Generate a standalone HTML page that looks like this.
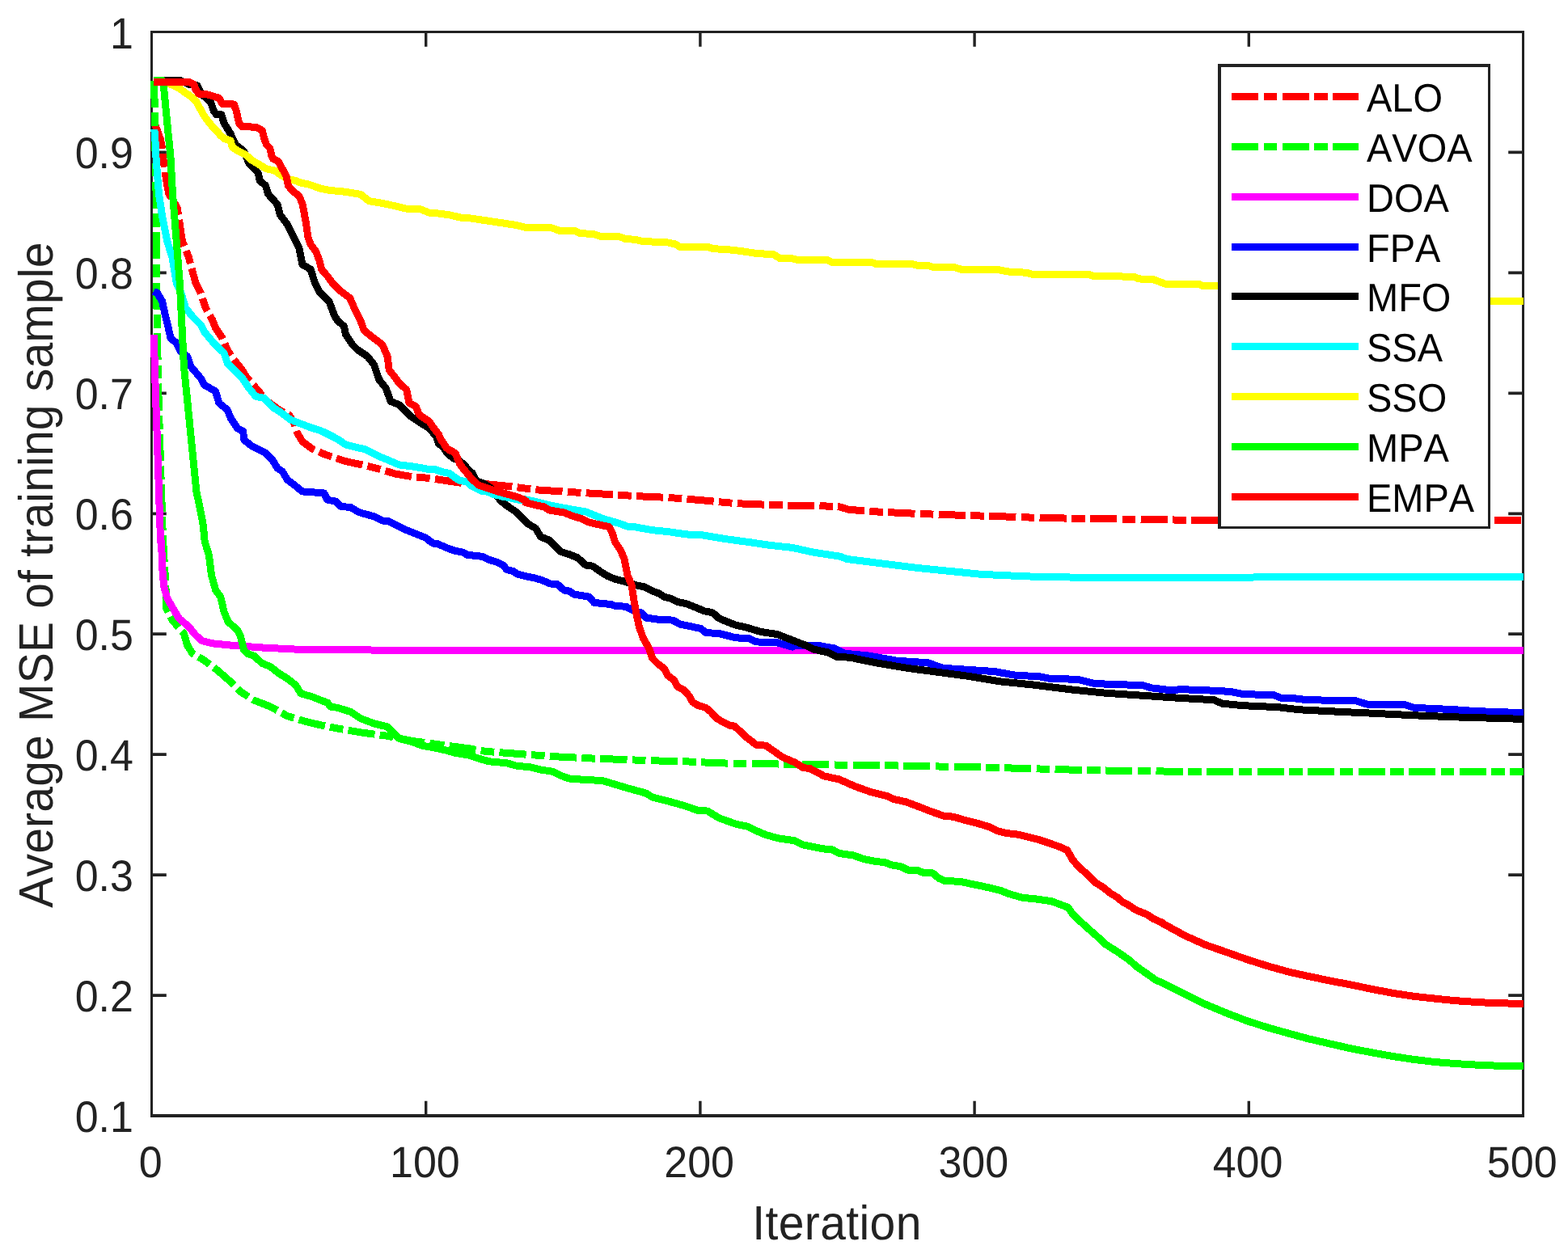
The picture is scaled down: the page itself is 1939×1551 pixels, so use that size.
<!DOCTYPE html>
<html lang="en">
<head>
<meta charset="utf-8">
<title>Average MSE of training sample</title>
<style>
html,body{margin:0;padding:0;background:#fff;}
body{width:1939px;height:1551px;overflow:hidden;}
svg{display:block;}
text{font-family:"Liberation Sans",sans-serif;fill:#222222;font-kerning:none;text-rendering:geometricPrecision;}
.tk{font-size:52px;}
.lb{font-size:57px;}
.lg{font-size:47px;fill:#000;}
.c{fill:none;stroke-width:9.0;stroke-linejoin:round;stroke-linecap:butt;shape-rendering:crispEdges;}
.ax{stroke:#222222;fill:none;}
</style>
</head>
<body>
<svg width="1939" height="1551" viewBox="0 0 1939 1551">
<rect x="0" y="0" width="1939" height="1551" fill="#ffffff"/>
<defs><clipPath id="plot"><rect x="186.0" y="39.5" width="1698.0" height="1340.5"/></clipPath></defs>
<rect class="ax" stroke-width="3.0" x="187.5" y="39.5" width="1696.0" height="1340.5"/>
<path class="ax" stroke-width="4" d="M186.0 1380.0H1885.0"/>
<path class="ax" stroke-width="3.4" d="M526.7 1380.0v-18.3M526.7 39.5v18.3M865.9 1380.0v-18.3M865.9 39.5v18.3M1205.1 1380.0v-18.3M1205.1 39.5v18.3M1544.3 1380.0v-18.3M1544.3 39.5v18.3"/>
<path class="ax" stroke-width="3.8" d="M187.5 1231.1h18.3M1883.5 1231.1h-18.3M187.5 1082.1h18.3M1883.5 1082.1h-18.3M187.5 933.2h18.3M1883.5 933.2h-18.3M187.5 784.2h18.3M1883.5 784.2h-18.3M187.5 635.3h18.3M1883.5 635.3h-18.3M187.5 486.3h18.3M1883.5 486.3h-18.3M187.5 337.4h18.3M1883.5 337.4h-18.3M187.5 188.4h18.3M1883.5 188.4h-18.3"/>
<g clip-path="url(#plot)">
<path class="c" stroke="#ff0000" stroke-dasharray="33.3 6.25 16.7 6.25" d="M190.8 152.2 L193.4 158.4 L198.6 172.8 L200.6 183.1 L202.2 198.6 L204.2 214.1 L206.8 229.6 L208.9 240 L219.2 256.9 L225.4 298.2 L233.6 318.8 L241.9 350 L248.1 362.4 L254.3 380.9 L262.5 395.4 L266.6 405.7 L274.9 418.1 L281.1 432.5 L289.3 444.9 L297.6 455.2 L305.8 467.6 L318.2 482 L330 495.8"/>
<path class="c" stroke="#ff0000" stroke-dasharray="33.3 6.25 16.7 6.25" stroke-dashoffset="8.0" d="M330 495.8 L330.6 496.5 L345 506.8 L357.4 513 L363.6 523.3 L367.7 535.7 L373.9 546 L386.3 555.3 L402.8 562.5 L427.6 570.7 L448.2 574.9 L468.8 580 L489.4 586.2 L510.1 589.7 L530.7 591.4 L551.3 594.5 L572 597.6 L598.8 598.5"/>
<path class="c" stroke="#ff0000" stroke-dasharray="33.3 6.25 16.7 6.25" stroke-dashoffset="61.1" d="M598.8 598.5 L600.6 598.6 L631.6 601.7 L662.5 605.8 L703.8 608.5 L745 611 L786.3 613.6 L827.6 615.5 L868.8 618.8 L910.1 622.7 L951.3 624.4 L980 625.4 L980 625.6 L1005.8 625.6 L1036.7 626.4 L1049.6 630.3 L1083.1 632.9 L1134.7 635.4 L1186.3 637.2 L1237.9 638.8 L1289.4 640.6 L1341 641.4 L1392.6 642.1 L1444.2 642.9 L1480 643.4 L1600 643.4 L1885 643.6"/>
<path class="c" stroke="#00ff00" stroke-dasharray="33.3 6.25 16.7 6.25" d="M190.8 99.6 L191.3 152.2 L193.1 240 L193.6 350 L194.4 411.9 L196.1 494.4 L198.6 576.9 L200.6 638.8 L201.2 659.4 L201.7 670 L204.8 721.6 L205.8 752.5 L213 767 L227.4 783.5 L231.6 797.9 L237.8 808.2 L252.2 816.5 L268.7 828.8 L285.2 843.3 L297.6 855.7 L314.1 866 L334.7 874.2 L355.3 885.6 L376 891.8 L396.6 896.9 L417.2 901 L448.2 906.2 L479.1 910.3 L510.1 916.5 L540 920.5"/>
<path class="c" stroke="#00ff00" stroke-dasharray="33.3 6.25 16.7 6.25" stroke-dashoffset="46.8" d="M540 920.5 L541 920.6 L580 925.8 L600.6 929.4 L641.9 932.5 L683.1 935.6 L724.4 937.7 L765.7 939.3 L806.9 940.8 L848.2 941.8 L889.4 943.9 L930.7 944.5 L980 945.3 L985.8 945.5 L1088.9 946.6 L1217.9 949.1 L1346.8 952.7 L1460 954.3 L1600 954 L1885 954.2"/>
<path class="c" stroke="#ff00ff" d="M190.3 414 L191.3 453.1 L193.4 515 L195.5 576.9 L197.5 638.8 L198.6 670 L199.6 670 L200.6 700.9 L202.7 725.7 L206.8 740.1 L214 752.5 L221.3 764.9 L233.6 775.2 L241.9 785.5 L250.1 792.7 L262.5 795.8 L283.1 797.9 L324.4 801 L365.7 803.1 L468.8 804.1 L580 804.1 L700 804.3 L1885 804.5"/>
<path class="c" stroke="#0000ff" d="M189.9 360.3 L194.4 362.4 L200.6 372.7 L203.7 387.1 L207.8 403.6 L210.9 418.1 L218.2 424.3 L223.3 434.6 L231.6 440.8 L235.7 453.1 L248.1 467.6 L252.2 475.8 L266.6 484.1 L270.8 498.5 L281.1 506.8 L285.2 517.1 L293.5 529.5 L300.7 533.6 L301.7 543.9 L312 552.2 L328.5 560.4 L336.8 568.7 L343 579 L349.2 583.1 L355.3 593.4 L363.6 599.6 L373.9 607.9 L400.7 609.9 L404.9 618.2 L415.2 620.2 L421.4 626.4 L433.7 627.5 L444.1 633.7 L462.6 638.8 L472.9 644 L480 644.6 L490.3 649.7 L500.6 654.9 L510.9 659 L521.3 663.1 L526.4 665.2 L531.6 669.3 L536.7 672.4 L541.9 672.9 L552.2 677.6 L562.5 681.2 L572.8 683.3 L578 686.4 L588.3 687.4 L596.6 688.4 L603.8 692 L614.1 695.1 L622.3 699.2 L626.5 704.4 L634.7 706.5 L639.9 710.1 L650.2 712.7 L660.5 714.7 L670.8 717.8 L680 721.9 L689.3 722.7 L697.6 730 L703.8 731 L710 735.1 L728.5 738.2 L734.7 745.4 L755.3 747.5 L761.5 749.6 L773.9 750.2 L786.3 756.8 L792.5 757.8 L798.7 764 L813.1 766.1 L831.7 767.1 L842 772.3 L866.7 777.4 L872.9 782.6 L889.4 783.6 L910.1 788.8 L926.6 789.8 L934.8 793.9 L961.6 794.9 L980 800.1 L980 797.9 L1013.5 798.7 L1031.6 801.8 L1044.5 808.2 L1072.8 810.8 L1108.9 817.2 L1147.6 819.8 L1165.7 826.3 L1186.3 827.6 L1230.1 830.6 L1255.9 835.3 L1284.3 836.6 L1297.2 839.2 L1333.3 840.4 L1353.9 845.6 L1413.2 847.7 L1423.5 850.8 L1444.2 853.3 L1464.8 852.8 L1498.3 854.1 L1521.5 855.4 L1537 858.5 L1575.7 859.8 L1583.4 863.1 L1606.6 864.2 L1614.3 865.7 L1676.2 866.7 L1691.7 871.4 L1738.1 871.9 L1748.4 875.3 L1800 877.8 L1825.8 879.6 L1883.8 881.7"/>
<path class="c" stroke="#000000" d="M190 99.6 L223.3 99.6 L233.6 104.2 L244 105.8 L249.1 116.1 L260.5 126.4 L264.6 137.8 L267.7 141.9 L273.9 141.9 L277 152.2 L282.1 160.5 L285.2 165.6 L287.3 170.8 L291.4 179 L296.6 183.1 L301.7 187.3 L307.9 201.7 L315.1 208.9 L319.2 214.1 L321.3 223.4 L328.5 229.6 L331.6 240 L343 252.8 L346.1 265.2 L355.3 277.6 L361.5 289.9 L369.8 306.4 L373.9 327.1 L384.2 333.2 L389.4 350 L394.5 360.3 L406.9 372.7 L413.1 389.2 L417.2 396.4 L425.5 403.6 L427.6 414 L435.8 426.3 L442 432.5 L454.4 440.8 L462.6 451.1 L468.8 469.6 L477.1 480 L483.2 496.5 L493.6 500.6 L501.8 508.8 L508 515 L520.4 523.3 L530.7 529.5 L533.1 532.5 L539.3 539.3 L542.4 548.6 L548.6 553.5 L552.9 560.3 L560.3 566.5 L567.1 569.6 L573.3 573.9 L578.3 580.1 L584.5 585.7 L586.9 591.3 L590.6 595.6 L596.8 597.5 L601.2 599.9 L606.7 603.6 L613.5 612.3 L619.7 619.7 L625.9 624.7 L637.8 633 L648.1 643.3 L652.2 647.4 L662.5 653.6 L668.7 664 L679 668.1 L687.3 676.3 L693.5 682.5 L703.8 685.6 L714.1 689.7 L724.4 699 L732.7 700.1 L743 707.3 L751.2 712.4 L761.5 716.6 L773.9 719.6 L786.3 723.8 L796.6 725.8 L806.9 731 L815.2 734.1 L821.4 738.2 L829.6 740.3 L837.9 744.4 L848.2 746.5 L858.5 750.6 L870.9 755.8 L881.2 757.8 L889.4 765 L899.8 769.2 L910.1 773.3 L920.4 775.3 L941 781.5 L961.6 784.6 L972 788.8 L980 791.9 L995.5 797.9 L1005.8 803.1 L1023.8 806.9 L1034.2 812.1 L1052.2 813.4 L1083.1 819.8 L1121.8 826.3 L1160.5 831.4 L1199.2 836.6 L1237.9 843 L1276.5 846.9 L1328.1 853.3 L1366.8 857.2 L1418.4 860.6 L1439 862.1 L1464.8 863.7 L1500.9 865.7 L1511.2 870.1 L1537 872.7 L1580.8 874.7 L1606.6 877.8 L1658.2 880.4 L1696.9 882.2 L1748.4 884.8 L1800 886.9 L1851.6 888.4 L1883.8 889.4"/>
<path class="c" stroke="#00ffff" d="M190.8 159.9 L191.9 172.8 L192.9 193.5 L194.4 214.1 L196.5 240 L200.6 267.2 L206.8 298.2 L213 318.8 L218.2 350 L223.3 360.3 L229.5 380.9 L237.8 391.3 L248.1 401.6 L252.2 409.8 L262.5 422.2 L270.8 430.5 L277 436.6 L281.1 449 L291.4 459.3 L299.6 467.6 L307.9 480 L316.2 490.3 L326.5 492.3 L338.8 504.7 L347.1 509.9 L359.5 519.2 L369.8 523.3 L386.3 529.5 L396.6 532.6 L406.9 537.7 L417.2 542.9 L427.6 550.1 L439.9 553.2 L450.2 555.3 L468.8 564.5 L479.1 568.7 L493.6 574.9 L510.1 576.9 L530 580.4 L538 580.7 L545.5 583.2 L556 585.7 L560.9 589.4 L568.4 594.4 L577 595.6 L581.4 599.9 L585.7 602.3 L591.9 605.4 L595.6 607.2 L604.3 608.5 L610.5 611.6 L616.6 612.8 L622.8 614.7 L629 615.3 L638.3 617.8 L644.5 618.4 L650 617.9 L664.9 621 L682.9 625.5 L703.9 629.5 L724.4 633 L745 641.3 L765.7 647.4 L776 651.2 L786.3 652 L806.9 655.7 L827.6 657.8 L848.2 660.9 L868.8 661.9 L899.8 667 L930.7 671.2 L951.3 674.3 L980 677.4 L1005.8 683.1 L1039.3 688.3 L1047 691.4 L1083.1 696 L1134.7 702.5 L1186.3 707.6 L1212.1 710.2 L1237.9 711.5 L1276.5 713.1 L1328.1 714.1 L1480 714.1 L1883.8 713.6"/>
<path class="c" stroke="#ffff00" d="M190 101.1 L200.6 101.7 L210.9 104.2 L221.3 108.9 L229.5 115.1 L234.7 118.2 L241.9 124.4 L247 133.6 L252.2 142.9 L257.4 150.1 L262.5 156.3 L267.7 161.5 L272.8 167.7 L278 171.8 L285.2 173.9 L287.3 182.1 L293.5 186.2 L303.8 191.4 L312 198.6 L319.2 202.7 L329.6 208.9 L339.9 211 L345 215.1 L355.3 221.3 L365.7 223.4 L372.9 226.5 L380 227.5 L396.6 233.2 L406.9 235.3 L427.6 237.3 L446.1 240.4 L456.4 248.7 L468.8 250.7 L489.4 254.9 L501.8 258 L520.4 259 L530.7 263.1 L543.1 264.1 L557.5 266.2 L572 269.7 L580 269.7 L605.8 273.5 L639.3 278.6 L649.6 281.2 L683.1 282 L690.9 285.1 L711.5 285.6 L716.7 288.4 L734.7 289.7 L742.5 292.3 L765.7 292.8 L773.4 295.4 L786.3 296.4 L794 298.5 L825 299.8 L835.3 301.9 L840.4 305.2 L876.5 305.7 L881.7 307.8 L897.2 308.3 L915.2 310.4 L935.9 313.5 L956.5 314.7 L964.2 319.4 L979.7 319.9 L984.8 321.2 L1023.5 321.7 L1028.7 324.3 L1059.6 324.5 L1060 324.5 L1078.1 324.5 L1083.2 326.4 L1127 326.4 L1134.8 328.4 L1147.7 328.4 L1152.8 330.2 L1178.6 330.2 L1188.9 333.3 L1232.8 333.3 L1248.2 336.2 L1268.9 337.2 L1276.6 339.2 L1346.2 339.2 L1351.4 341.3 L1403 342.3 L1408.1 344.9 L1426.2 345.7 L1441.6 351.4 L1482.9 351.4 L1488.1 353.9 L1506.1 353.9 L1520 356 L1600 360 L1700 366 L1800 370 L1843 372.5 L1885 372.5"/>
<path class="c" stroke="#00ff00" d="M190 99.6 L200.6 99.6 L202.2 104.8 L204.8 131.6 L207.8 162.5 L210.9 193.5 L213.5 240 L218.2 298.2 L222.3 350 L224.4 391.3 L227.4 453.1 L231.6 494.4 L235.7 535.7 L239.8 576.9 L242.9 607.9 L248.1 632.6 L251.2 649.1 L253.2 670 L258.4 686.5 L261.5 711.3 L266.6 729.8 L272.8 738.1 L277 756.6 L282.1 769 L293.5 779.3 L297.6 787.6 L301.7 804.1 L305.8 808.2 L314.1 811.3 L324.4 820.6 L334.7 824.7 L345 833 L355.3 839.2 L365.7 847.4 L371.9 857.7 L386.3 861.9 L396.6 866 L404.9 869.1 L409 874.2 L417.2 875.3 L433.7 880.4 L446.1 888.7 L462.6 894.9 L479.1 899 L485.3 905.2 L493.6 913.4 L510.1 917.6 L520.4 921.7 L541 925.8 L551.3 927.9 L561.6 931 L580 934.1 L590.3 937.7 L604.8 941.8 L627.4 943.9 L637.8 947 L656.3 949 L668.7 952.1 L683.1 954.2 L693.5 959.3 L703.8 963 L724.4 964.5 L745 965.5 L755.3 968.6 L776 974.8 L798.7 981 L806.9 986.2 L827.6 991.3 L846.1 996.5 L862.6 1002.2 L875 1003.1 L889.4 1011.9 L910.1 1019.2 L924.5 1022.3 L934.8 1027.4 L947.2 1032.6 L961.6 1036.7 L983.2 1039.9 L993.5 1045.1 L1016.7 1049.7 L1029.6 1051 L1037.4 1055.4 L1055.4 1058 L1068.3 1062.6 L1083.8 1065.7 L1094.1 1066.5 L1101.8 1069.6 L1114.7 1072.1 L1122.5 1076 L1135.3 1076.8 L1143.1 1079.9 L1153.4 1079.9 L1161.1 1086.3 L1168.9 1089.7 L1186.9 1090.2 L1205 1094.1 L1223 1097.9 L1238.5 1101.8 L1246.2 1105.1 L1264.3 1110.3 L1282.3 1112.1 L1300.4 1114.7 L1310.7 1118.6 L1321 1122.4 L1326.2 1130.2 L1333.9 1137.9 L1346.8 1149.5 L1357.1 1158.5 L1367.4 1168.1 L1382.9 1177.9 L1395.8 1186.9 L1406.1 1195.9 L1419 1204.9 L1429.3 1212.2 L1437.1 1215.5 L1439 1216.3 L1464.8 1229.2 L1490.6 1242.1 L1516.4 1252.9 L1542.1 1262.7 L1567.9 1271 L1593.7 1278.2 L1619.5 1285.2 L1645.3 1291.1 L1671.1 1297 L1696.9 1301.9 L1722.7 1306.6 L1748.4 1310.4 L1774.2 1313.5 L1800 1315.6 L1825.8 1317.1 L1851.6 1318.2 L1883.8 1318.7"/>
<path class="c" stroke="#ff0000" d="M190 101.1 L233.6 101.1 L239.8 104.2 L241.9 110.9 L246 116.1 L257.4 117.1 L270.8 121.3 L274.9 128.5 L289.3 129 L292.4 137.8 L295.5 152.2 L298.6 156.3 L317.2 157.4 L324.4 161.5 L326.5 170.8 L329.6 179 L333.7 183.1 L335.8 192.4 L337.8 196.6 L344 199.6 L349.2 208.9 L354.3 218.2 L356.4 229.6 L361.5 235.8 L369.8 242.5 L373.9 251.8 L378 273.4 L381.1 294.1 L384.2 302.3 L390.4 310.6 L394.5 320.9 L397.6 333.2 L404.9 341.5 L411 350 L421.4 360.3 L432.7 368.6 L439.9 385.1 L446.1 397.4 L450.2 408.8 L460.6 417 L472.9 426.3 L479.1 440.8 L481.2 457.3 L487.4 465.5 L493.6 473.8 L502.8 482 L505.9 498.5 L514.2 502.7 L518.3 513 L530.7 521.2 L536.8 530 L542.4 537.1 L545.5 544.2 L547.9 547.3 L551.7 553.5 L555.4 556.6 L559.7 558.5 L563.4 560.9 L566.2 568.4 L568.4 573.3 L573 580.1 L578.3 586 L582.6 591.6 L586 594.7 L591.9 600.2 L595 601.2 L604.3 604.3 L616.6 608.3 L629 611.7 L638.3 614.2 L644.5 616.6 L650 619.1 L650.1 621.7 L662.5 624.8 L672.8 626.8 L679 630.9 L697.6 634 L707.9 638.2 L718.2 641.3 L726.5 645.4 L738.8 648.5 L753.3 651.6 L757.4 659.8 L760.5 670.1 L766.7 679.4 L771.9 690.8 L776 711.4 L781.1 723.8 L784.2 744.4 L787.3 760.9 L790.4 775.3 L795.6 789.8 L802.8 802.2 L806.9 814.5 L813.1 820.7 L821.4 826.9 L825.5 835.2 L833.7 841.4 L837.9 849.6 L846.1 853.7 L852.3 861 L856.4 868.2 L862.6 872.3 L872.9 875.4 L879.1 880.6 L885.3 887.8 L893.6 892.9 L901.8 897.1 L908 898.1 L916.3 905.3 L922.4 911.5 L930.7 917.7 L934.8 921.2 L947.2 922.2 L957.5 929.4 L967.8 936.6 L980 941.8 L983.2 943.2 L993.5 949.7 L1001.3 950.4 L1019.3 960 L1037.4 963.8 L1058 972.9 L1076 979.3 L1096.7 984.5 L1104.4 988.3 L1119.9 991.7 L1135.3 997.4 L1148.2 1002.5 L1166.3 1009 L1179.2 1010.3 L1192.1 1014.1 L1207.6 1018 L1223 1022.6 L1233.3 1027.8 L1243.7 1030.4 L1259.1 1032.2 L1269.4 1034.7 L1284.9 1038.6 L1300.4 1043.8 L1310.7 1047.6 L1319.7 1051.5 L1326.2 1063.1 L1333.9 1072.1 L1344.2 1081.2 L1354.5 1091.5 L1364.8 1097.9 L1372.6 1104.4 L1382.9 1110.8 L1388.1 1115.5 L1398.4 1121.1 L1403.5 1125 L1419 1131.4 L1426.7 1136.6 L1437.1 1141.2 L1439 1142.8 L1464.8 1157 L1490.6 1168.6 L1516.4 1177.6 L1542.1 1186.7 L1567.9 1194.9 L1593.7 1202.1 L1619.5 1207.8 L1645.3 1213.2 L1671.1 1218.1 L1696.9 1223.5 L1722.7 1228.4 L1748.4 1232.3 L1774.2 1235.1 L1800 1237.7 L1825.8 1239.5 L1851.6 1240.8 L1883.8 1241.3"/>
</g>
<text class="tk" transform="translate(186.2 1455.6) scale(1 1.045)" text-anchor="middle">0</text>
<text class="tk" transform="translate(525.4 1455.6) scale(1 1.045)" text-anchor="middle">100</text>
<text class="tk" transform="translate(864.6 1455.6) scale(1 1.045)" text-anchor="middle">200</text>
<text class="tk" transform="translate(1203.8 1455.6) scale(1 1.045)" text-anchor="middle">300</text>
<text class="tk" transform="translate(1543.0 1455.6) scale(1 1.045)" text-anchor="middle">400</text>
<text class="tk" transform="translate(1882.2 1455.6) scale(1 1.045)" text-anchor="middle">500</text>
<text class="tk" transform="translate(165.0 1400.0) scale(1 1.045)" text-anchor="end">0.1</text>
<text class="tk" transform="translate(165.0 1251.1) scale(1 1.045)" text-anchor="end">0.2</text>
<text class="tk" transform="translate(165.0 1102.1) scale(1 1.045)" text-anchor="end">0.3</text>
<text class="tk" transform="translate(165.0 953.2) scale(1 1.045)" text-anchor="end">0.4</text>
<text class="tk" transform="translate(165.0 804.2) scale(1 1.045)" text-anchor="end">0.5</text>
<text class="tk" transform="translate(165.0 655.3) scale(1 1.045)" text-anchor="end">0.6</text>
<text class="tk" transform="translate(165.0 506.3) scale(1 1.045)" text-anchor="end">0.7</text>
<text class="tk" transform="translate(165.0 357.4) scale(1 1.045)" text-anchor="end">0.8</text>
<text class="tk" transform="translate(165.0 208.4) scale(1 1.045)" text-anchor="end">0.9</text>
<text class="tk" transform="translate(165.0 59.5) scale(1 1.045)" text-anchor="end">1</text>
<text class="lb" transform="translate(1035.0 1532.8) scale(1 1.045)" text-anchor="middle" letter-spacing="0.4">Iteration</text>
<text class="lb" transform="translate(65 711.0) rotate(-90) scale(1 1.045)" text-anchor="middle" letter-spacing="0.2">Average MSE of training sample</text>
<rect x="1506" y="79" width="337" height="575" fill="#222222"/>
<rect x="1510" y="83" width="330" height="568" fill="#ffffff"/>
<path class="c" stroke="#ff0000" stroke-dasharray="33.3 6.25 16.7 6.25" d="M1523 119.4H1679.8"/>
<text class="lg" transform="translate(1690 138.0) scale(1 1.045)">ALO</text>
<path class="c" stroke="#00ff00" stroke-dasharray="33.3 6.25 16.7 6.25" d="M1523 181.2H1679.8"/>
<text class="lg" transform="translate(1690 199.8) scale(1 1.045)">AVOA</text>
<path class="c" stroke="#ff00ff" d="M1523 243.1H1679.8"/>
<text class="lg" transform="translate(1690 261.7) scale(1 1.045)">DOA</text>
<path class="c" stroke="#0000ff" d="M1523 305.0H1679.8"/>
<text class="lg" transform="translate(1690 323.6) scale(1 1.045)">FPA</text>
<path class="c" stroke="#000000" d="M1523 366.8H1679.8"/>
<text class="lg" transform="translate(1690 385.4) scale(1 1.045)">MFO</text>
<path class="c" stroke="#00ffff" d="M1523 428.6H1679.8"/>
<text class="lg" transform="translate(1690 447.2) scale(1 1.045)">SSA</text>
<path class="c" stroke="#ffff00" d="M1523 490.5H1679.8"/>
<text class="lg" transform="translate(1690 509.1) scale(1 1.045)">SSO</text>
<path class="c" stroke="#00ff00" d="M1523 552.4H1679.8"/>
<text class="lg" transform="translate(1690 571.0) scale(1 1.045)">MPA</text>
<path class="c" stroke="#ff0000" d="M1523 614.2H1679.8"/>
<text class="lg" transform="translate(1690 632.8) scale(1 1.045)">EMPA</text>
</svg>
</body>
</html>
